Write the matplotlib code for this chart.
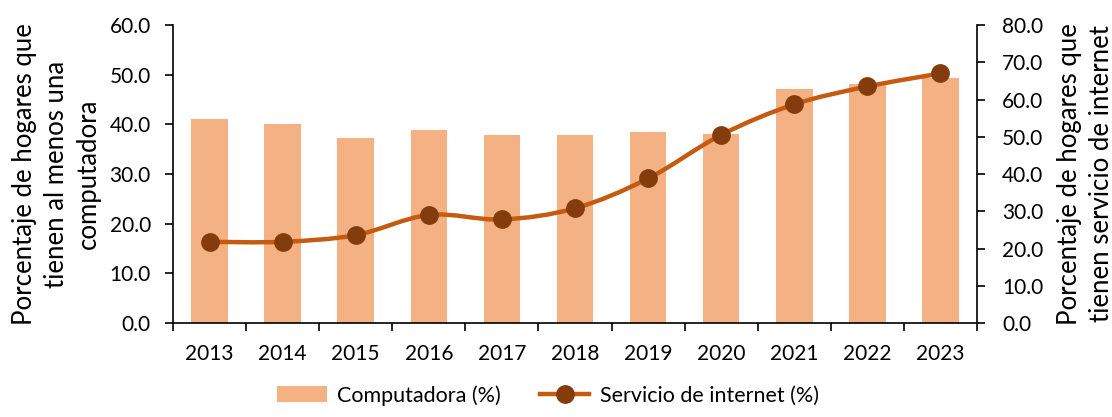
import numpy as np
import matplotlib
matplotlib.use('Agg')
from matplotlib import pyplot as plt
from matplotlib.path import Path
from matplotlib.patches import PathPatch
from matplotlib.lines import Line2D
from matplotlib.patches import Patch

plt.rcParams['font.family'] = ['Lato', 'DejaVu Sans']

years = ['2013', '2014', '2015', '2016', '2017', '2018', '2019', '2020', '2021', '2022', '2023']
computadora = [41.0, 40.1, 37.2, 38.9, 37.9, 37.9, 38.4, 38.0, 47.1, 48.1, 49.3]
internet = [21.8, 21.8, 23.6, 29.0, 27.8, 30.8, 38.8, 50.5, 58.7, 63.5, 67.0]

bar_color = '#F4B183'
line_color = '#C55A11'
marker_color = '#843C0C'
fs = 15
lfs = 18.5

fig = plt.figure(figsize=(11.12, 4.17), dpi=100)
ax = fig.add_axes([0.1556, 0.2254, 0.8786 - 0.1556, 0.940 - 0.2254])
x = np.arange(len(years))
ax.bar(x, computadora, width=0.5, color=bar_color, zorder=2)
ax.set_xlim(-0.5, len(years) - 0.5)
ax.set_ylim(0, 60)
ax.set_yticks(np.arange(0, 61, 10))
ax.set_yticklabels([f'{v:.1f}' for v in np.arange(0, 61, 10)], fontsize=fs)
ax.set_xticks(x)
ax.set_xticklabels(years, fontsize=fs)
ax.set_xticks(np.arange(-0.5, len(years), 1), minor=True)
ax.tick_params(axis='x', which='major', length=0, pad=15)
ax.tick_params(axis='x', which='minor', length=6, width=1.2, direction='out')
ax.tick_params(axis='y', length=6, width=1.2, direction='out', pad=10)
for s in ['top', 'right']:
    ax.spines[s].set_visible(False)
for s in ['left', 'bottom']:
    ax.spines[s].set_linewidth(1.2)
ax.set_ylabel('Porcentaje de hogares que\ntienen al menos una\ncomputadora', fontsize=lfs, labelpad=6, linespacing=1.35)

ax2 = ax.twinx()
ax2.set_ylim(0, 80)
ax2.set_yticks(np.arange(0, 81, 10))
ax2.set_yticklabels([f'{v:.1f}' for v in np.arange(0, 81, 10)], fontsize=fs)
ax2.tick_params(axis='y', length=6, width=1.2, direction='out', pad=12)
for s in ['top', 'left', 'bottom']:
    ax2.spines[s].set_visible(False)
ax2.spines['right'].set_linewidth(1.2)
ax2.set_ylabel('Porcentaje de hogares que\ntienen servicio de internet', fontsize=lfs, labelpad=10, linespacing=1.35)

# smoothed line (Catmull-Rom as cubic Bezier segments)
pts = np.column_stack([x, internet]).astype(float)
verts = [pts[0]]
codes = [Path.MOVETO]
for i in range(len(pts) - 1):
    p0 = pts[i - 1] if i > 0 else pts[i]
    p1 = pts[i]
    p2 = pts[i + 1]
    p3 = pts[i + 2] if i + 2 < len(pts) else pts[i + 1]
    c1 = p1 + (p2 - p0) / 6.0
    c2 = p2 - (p3 - p1) / 6.0
    verts += [c1, c2, p2]
    codes += [Path.CURVE4] * 3
ax2.add_patch(PathPatch(Path(verts, codes), facecolor='none', edgecolor=line_color, lw=3.2, zorder=3, capstyle='round'))
ax2.plot(x, internet, linestyle='none', marker='o', markersize=12.5, color=marker_color, zorder=4)

handles = [Patch(facecolor=bar_color, label='Computadora (%)'),
           Line2D([0], [0], color=line_color, lw=3.2, marker='o', markersize=12.5,
                  markerfacecolor=marker_color, markeredgecolor=marker_color, label='Servicio de internet (%)')]
fig.legend(handles=handles, loc='center', bbox_to_anchor=(0.493, 0.052), ncol=2, frameon=False,
           fontsize=15.5, handlelength=2.3, handleheight=0.75, columnspacing=1.8, handletextpad=0.5)

fig.savefig('out.png', dpi=100)
